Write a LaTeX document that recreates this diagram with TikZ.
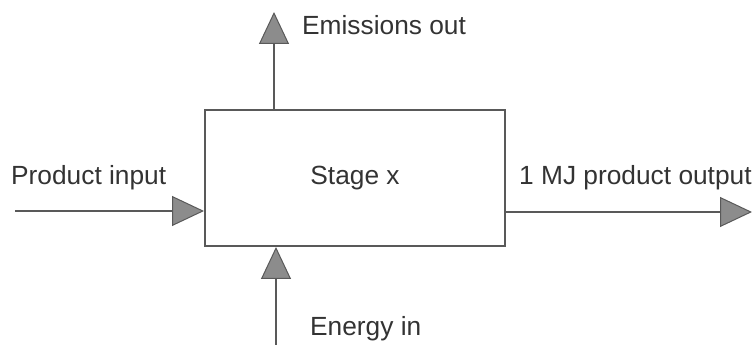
\documentclass[tikz,border=0pt]{standalone}
\usepackage{fontspec}
\setmainfont{Liberation Sans}
\usetikzlibrary{arrows.meta}
\definecolor{linec}{gray}{0.35}
\definecolor{headfill}{gray}{0.55}
\definecolor{txt}{gray}{0.2}
\begin{document}
\begin{tikzpicture}[x=1pt,y=1pt,
  flow/.style={draw=linec,line width=2pt,
    -{Triangle[length=32pt,width=30pt,fill=headfill,line width=1pt]}},
  lbl/.style={anchor=base west,inner sep=0pt,text=txt,font=\fontsize{26.3}{31}\selectfont},
  stagebox/.style={draw=linec,line width=2pt,rectangle,minimum width=300pt,minimum height=136pt,
    text=txt,font=\fontsize{26.3}{31}\selectfont}]
\useasboundingbox (0,0) rectangle (753,345);
\node[stagebox] (box) at (355,167) {Stage x};
\coordinate (pin) at (15,134);
\coordinate (pout) at (752,133);
\coordinate (emit) at (274,333);
\coordinate (ein) at (276,0);
\draw[flow] (pin) -- (pin -| box.west);
\draw[flow] (pout -| box.east) -- (pout);
\draw[flow] (emit |- box.north) -- (emit);
\draw[flow] (ein) -- (ein |- box.south);
\node[lbl] (lin) at (11,160) {Product input};
\node[lbl] (lout) at (519,160) {1 MJ product output};
\node[lbl] (lem) at (302,310) {Emissions out};
\node[lbl] (len) at (310,9) {Energy in};
\end{tikzpicture}
\end{document}
